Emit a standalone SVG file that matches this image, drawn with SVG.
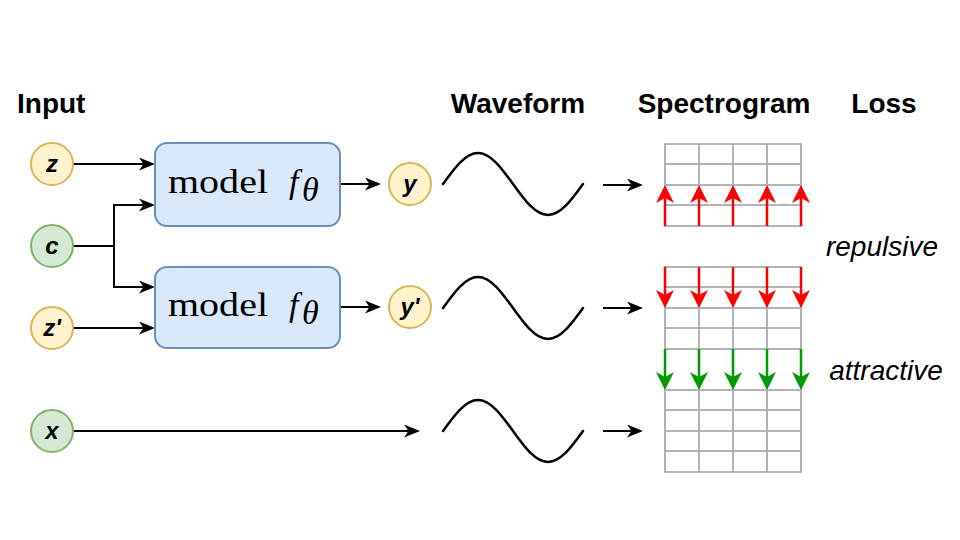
<svg xmlns="http://www.w3.org/2000/svg" width="960" height="540" viewBox="0 0 960 540">
<defs>
<style>
.hdr{font-family:"Liberation Sans",Arial,sans-serif;font-weight:bold;font-size:28px;fill:#000}
.lbl{font-family:"Liberation Sans",Arial,sans-serif;font-style:italic;font-size:28px;fill:#000}
.var{font-family:"Liberation Sans",Arial,sans-serif;font-weight:bold;font-style:italic;font-size:24px;fill:#000;text-anchor:middle}
.yel{fill:#fff2cc;stroke:#d6b656;stroke-width:2}
.grn{fill:#d5e8d4;stroke:#82b366;stroke-width:2}
.box{fill:#dae8fc;stroke:#6c8ebf;stroke-width:2}
.mdl{font-family:"Liberation Serif","Times New Roman",serif;font-size:34px;fill:#000}
.con{fill:none;stroke:#000;stroke-width:2}
.wave{fill:none;stroke:#000;stroke-width:2.5;stroke-linecap:round}
.grid{fill:none;stroke:#b3b3b3;stroke-width:2}
.red{stroke:#ff0000;stroke-width:2.5;fill:none}
.gr{stroke:#009900;stroke-width:2.5;fill:none}
</style>
<marker id="ah" viewBox="0 0 16 13" refX="9" refY="6.5" markerWidth="16" markerHeight="13" markerUnits="userSpaceOnUse" orient="auto"><path d="M0,0 L16,6.5 L0,13 L4.5,6.5 Z" fill="#000"/></marker>
<marker id="rh" viewBox="0 0 18 18" refX="12" refY="9" markerWidth="18" markerHeight="18" markerUnits="userSpaceOnUse" orient="auto"><path d="M0,0 L18,9 L0,18 L5,9 Z" fill="#ff0000"/></marker>
<marker id="gh" viewBox="0 0 18 18" refX="12" refY="9" markerWidth="18" markerHeight="18" markerUnits="userSpaceOnUse" orient="auto"><path d="M0,0 L18,9 L0,18 L5,9 Z" fill="#009900"/></marker>
<path id="sine" d="M443,184 C454.4,168.1 465.3,153 478,153 C490.7,153 501.6,168.1 513,184 C524.4,199.9 535.3,215 548,215 C560.7,215 571.6,199.9 583,184"/>
</defs>
<rect width="960" height="540" fill="#fff"/>

<g id="headers">
<text class="hdr" x="17" y="113">Input</text>
<text class="hdr" x="518" y="113" text-anchor="middle">Waveform</text>
<text class="hdr" x="724" y="113" text-anchor="middle">Spectrogram</text>
<text class="hdr" x="884" y="113" text-anchor="middle">Loss</text>
</g>

<g id="connectors">
<line class="con" x1="73" y1="164" x2="148" y2="164" marker-end="url(#ah)"/>
<polyline class="con" points="73,246 114,246"/>
<polyline class="con" points="148,205 114,205 114,287 148,287" marker-end="url(#ah)"/>
<line class="con" x1="114" y1="205" x2="148" y2="205" marker-end="url(#ah)"/>
<line class="con" x1="73" y1="328" x2="148" y2="328" marker-end="url(#ah)"/>
<line class="con" x1="340" y1="184" x2="374" y2="184" marker-end="url(#ah)"/>
<line class="con" x1="340" y1="307" x2="374" y2="307" marker-end="url(#ah)"/>
<line class="con" x1="73" y1="431" x2="413" y2="431" marker-end="url(#ah)"/>
<line class="con" x1="603" y1="185" x2="636" y2="185" marker-end="url(#ah)"/>
<line class="con" x1="603" y1="308" x2="636" y2="308" marker-end="url(#ah)"/>
<line class="con" x1="603" y1="431" x2="636" y2="431" marker-end="url(#ah)"/>
</g>

<g id="node-z"><circle class="yel" cx="52" cy="164" r="21"/><text class="var" x="52" y="172">z</text></g>
<g id="node-c"><circle class="grn" cx="52" cy="246" r="21"/><text class="var" x="52" y="254">c</text></g>
<g id="node-z2"><circle class="yel" cx="52" cy="328" r="21"/><text class="var" x="52" y="336">z'</text></g>
<g id="node-x"><circle class="grn" cx="52" cy="431" r="21"/><text class="var" x="52" y="439">x</text></g>

<g id="model1"><rect class="box" x="155" y="143" width="185" height="83" rx="12"/>
<text class="mdl" x="168" y="193" textLength="100" lengthAdjust="spacingAndGlyphs">model</text>
<text class="mdl" x="289" y="193" font-style="italic">f</text><text class="mdl" x="302" y="201" font-style="italic" font-size="22">θ</text></g>
<g id="model2"><rect class="box" x="155" y="267" width="185" height="81" rx="12"/>
<text class="mdl" x="168" y="316" textLength="100" lengthAdjust="spacingAndGlyphs">model</text>
<text class="mdl" x="289" y="316" font-style="italic">f</text><text class="mdl" x="302" y="324" font-style="italic" font-size="22">θ</text></g>

<g id="node-y"><circle class="yel" cx="410" cy="184" r="21"/><text class="var" x="410" y="192">y</text></g>
<g id="node-y2"><circle class="yel" cx="410" cy="307" r="21"/><text class="var" x="410" y="315">y'</text></g>

<g id="waves">
<use href="#sine" class="wave"/>
<use href="#sine" class="wave" transform="translate(0,124)"/>
<use href="#sine" class="wave" transform="translate(0,247)"/>
</g>

<g id="spec1">
<path class="grid" d="M665,144 H801 V226 H665 Z M665,164 H801 M665,185 H801 M665,205 H801 M699,144 V226 M733,144 V226 M767,144 V226"/>
<g class="red" marker-end="url(#rh)">
<line x1="665" y1="226" x2="665" y2="191"/>
<line x1="699" y1="226" x2="699" y2="191"/>
<line x1="733" y1="226" x2="733" y2="191"/>
<line x1="767" y1="226" x2="767" y2="191"/>
<line x1="801" y1="226" x2="801" y2="191"/>
</g>
</g>

<g id="spec2">
<path class="grid" d="M665,267 H801 V472 H665 Z M665,287 H801 M665,308 H801 M665,328 H801 M665,349 H801 M665,390 H801 M665,410 H801 M665,431 H801 M665,451 H801 M699,267 V472 M733,267 V472 M767,267 V472"/>
<g class="red" marker-end="url(#rh)">
<line x1="665" y1="267" x2="665" y2="302"/>
<line x1="699" y1="267" x2="699" y2="302"/>
<line x1="733" y1="267" x2="733" y2="302"/>
<line x1="767" y1="267" x2="767" y2="302"/>
<line x1="801" y1="267" x2="801" y2="302"/>
</g>
<g class="gr" marker-end="url(#gh)">
<line x1="665" y1="349" x2="665" y2="384"/>
<line x1="699" y1="349" x2="699" y2="384"/>
<line x1="733" y1="349" x2="733" y2="384"/>
<line x1="767" y1="349" x2="767" y2="384"/>
<line x1="801" y1="349" x2="801" y2="384"/>
</g>
</g>

<g id="loss-labels">
<text class="lbl" x="882" y="256" text-anchor="middle">repulsive</text>
<text class="lbl" x="886" y="380" text-anchor="middle">attractive</text>
</g>
</svg>
